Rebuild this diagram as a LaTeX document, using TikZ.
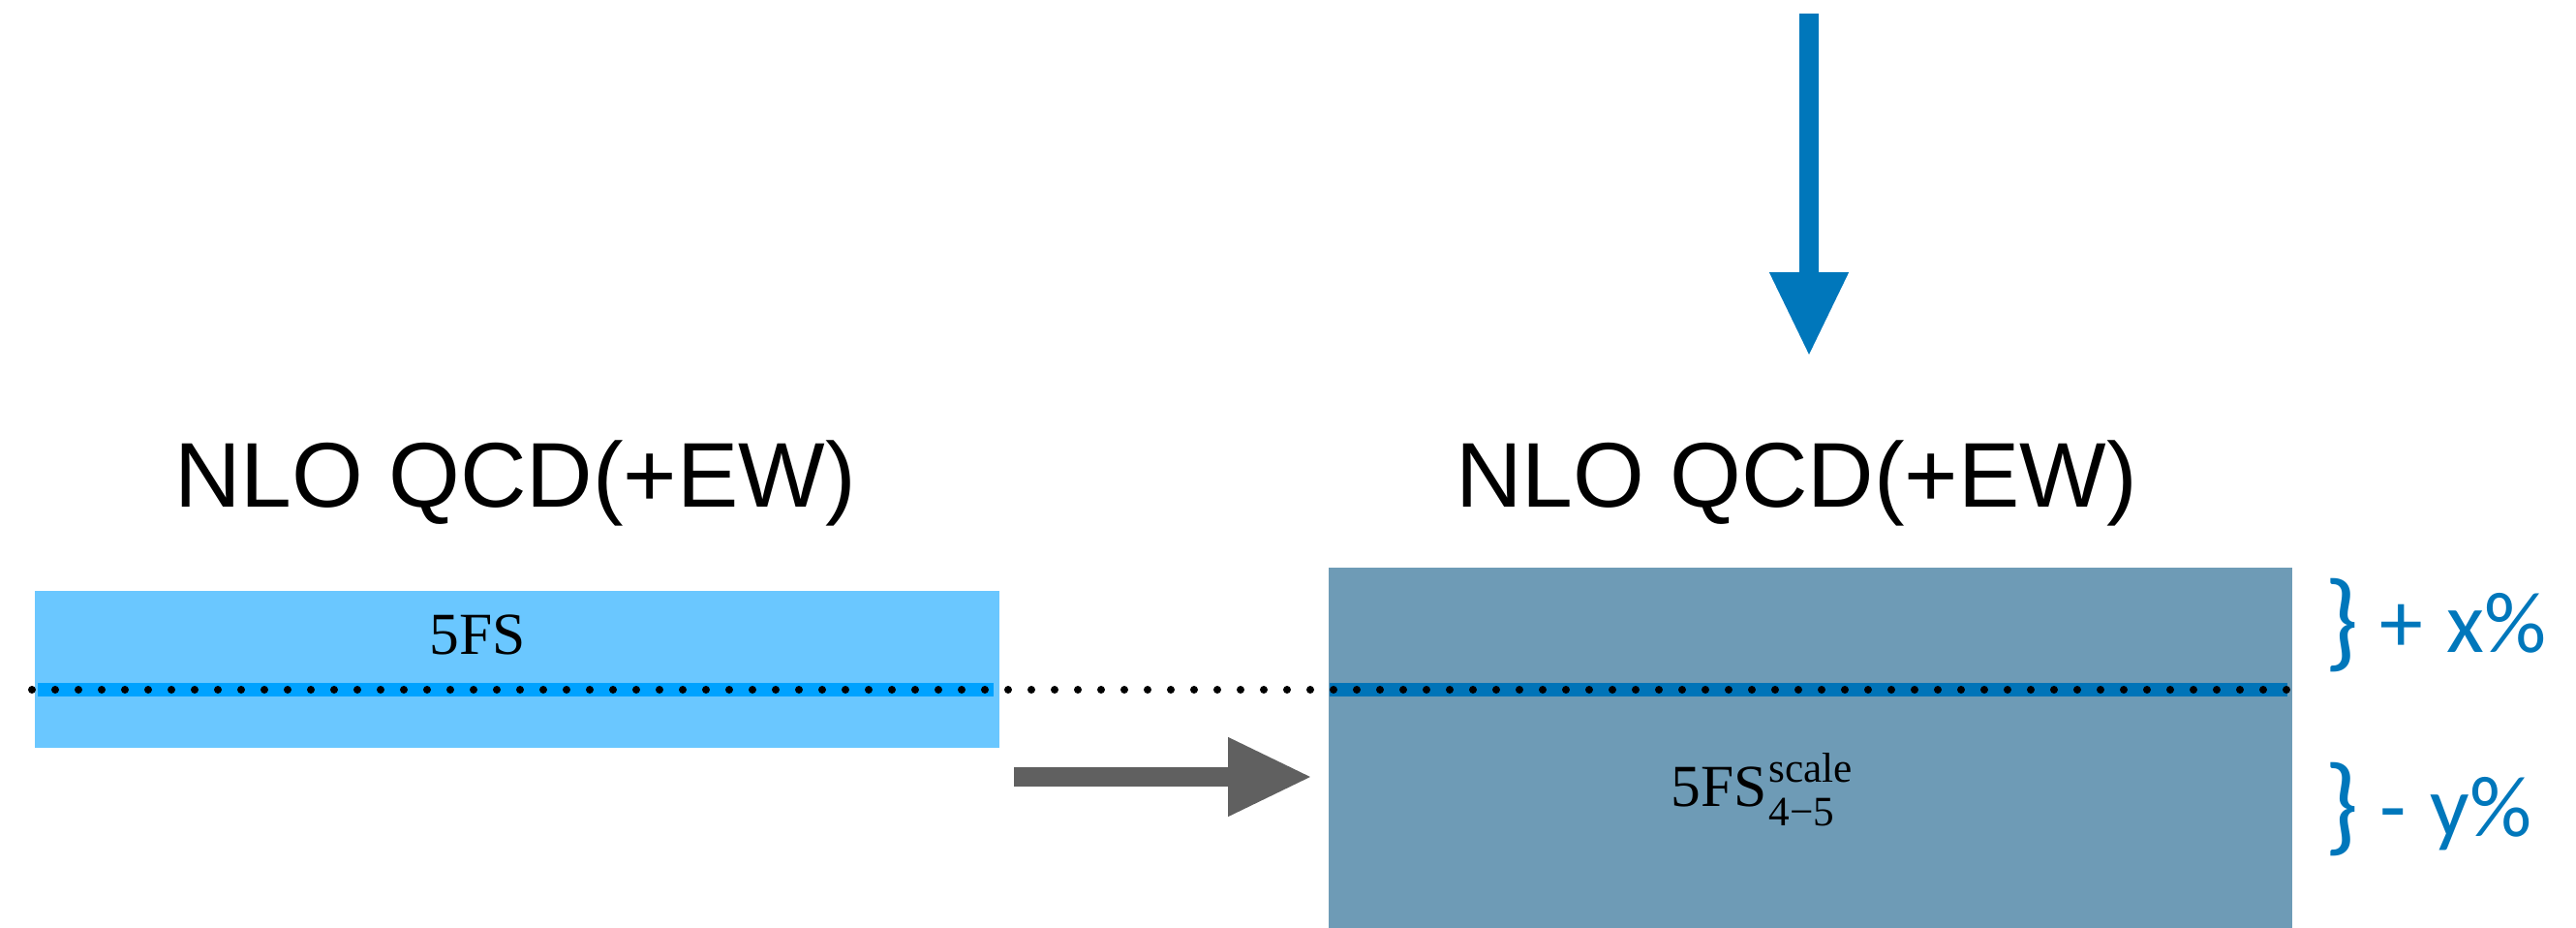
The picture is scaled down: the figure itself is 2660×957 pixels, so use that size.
\documentclass[tikz,border=0pt]{standalone}
\usepackage{fontspec}
\setmainfont{Liberation Serif}
\newfontfamily\headfont{Liberation Sans}
\newfontfamily\markfont{Carlito}
\usetikzlibrary{arrows.meta}

\definecolor{lightband}{HTML}{6AC7FF}
\definecolor{lightline}{HTML}{00A2FF}
\definecolor{darkband}{HTML}{6E9BB6}
\definecolor{darkline}{HTML}{0074B8}
\definecolor{accent}{HTML}{0077BB}
\definecolor{shiftgray}{HTML}{606060}

\tikzset{
  bandbox/.style={draw=none, inner sep=0pt, anchor=north west},
  heading/.style={font=\headfont\fontsize{27}{30}\selectfont, inner sep=0pt, anchor=base},
  schemetext/.style={font=\fontsize{17.5}{20}\selectfont, inner sep=0pt},
  scripttext/.style={font=\fontsize{12.3}{14}\selectfont, inner sep=0pt, anchor=base west},
  variation/.style={font=\markfont\fontsize{25.5}{28}\selectfont, text=accent, inner sep=0pt, anchor=base west},
  bracemark/.style={font=\markfont\fontsize{32}{34}\selectfont, text=accent, inner sep=0pt, anchor=base west},
  blockarrow/.style={line width=2mm, -{Triangle[length=8.7mm,width=7.6mm]}},
  centralline/.style={black, line width=0.8mm, line cap=round, dash pattern=on 0pt off 2.4mm}
}

\begin{document}
\begin{tikzpicture}[x=0.1mm, y=-0.1mm]
  \useasboundingbox (0,0) rectangle (2660,957);

  % 5FS band and its central value
  \node[bandbox, fill=lightband, minimum width=99.6mm, minimum height=16.2mm] (lbox) at (35,609) {};
  \fill[lightline] (39,705) rectangle (1026,719);

  % rescaled 5FS band
  \node[bandbox, fill=darkband, minimum width=99.5mm, minimum height=37.2mm] (rbox) at (1371,585) {};
  \fill[darkline] (1373,705) rectangle (2362,719);

  % common central line
  \coordinate (dotsL) at (33,712);
  \coordinate (dotsR) at (2366,712);
  \draw[centralline] (dotsL) -- (dotsR);

  % headings
  \node[heading] (hleft) at (532,523) {NLO QCD(+EW)};
  \node[heading] (hright) at (1855,523) {NLO QCD(+EW)};

  % scheme labels
  \node[schemetext] (fivefs) at (493,655) {5FS};
  \node[schemetext, anchor=base west] (fivefsr) at (1725,832) {5FS};
  \node[scripttext] (supscale) at (1826,807) {scale};
  \node[scripttext] (subrange) at (1826,852) {4−5};

  % upward variation
  \node[bracemark] (braceup) at (2400,678) {\}};
  \node[variation] (plussign) at (2457,673) {+};
  \node[variation] (xpct) at (2526,673) {x\%};

  % downward variation
  \node[bracemark] (bracedown) at (2400,868) {\}};
  \node[variation] (minussign) at (2457,863) {-};
  \node[variation] (ypct) at (2509,863) {y\%};

  % arrows
  \coordinate (shiftS) at (1047,802);
  \coordinate (shiftE) at (1355,802);
  \draw[blockarrow, shiftgray] (shiftS) -- (shiftE);

  \coordinate (inS) at (1868,14);
  \coordinate (inE) at (1868,368);
  \draw[blockarrow, accent] (inS) -- (inE);
\end{tikzpicture}
\end{document}
